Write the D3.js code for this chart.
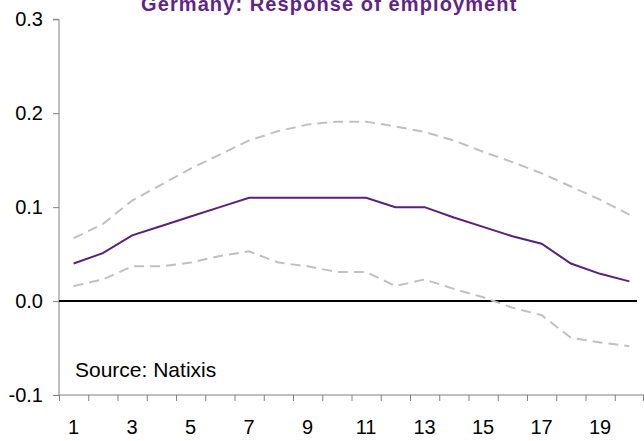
<!DOCTYPE html>
<html>
<head>
<meta charset="utf-8">
<script src="https://cdn.jsdelivr.net/npm/d3@7"></script>
<style>
  html, body { margin: 0; padding: 0; background: #fff; }
  svg { display: block; font-family: "Liberation Sans", Arial, sans-serif; }
</style>
</head>
<body>
<svg id="chart" width="644" height="441"></svg>
<script>
// Impulse response horizons (quarters)
const horizons = d3.range(1, 21);
// Response of employment and its confidence band
const response = [0.040, 0.051, 0.070, 0.080, 0.090, 0.100, 0.110, 0.110, 0.110, 0.110,
                  0.110, 0.100, 0.100, 0.089, 0.079, 0.069, 0.061, 0.040, 0.029, 0.021];
const upperBand = [0.067, 0.082, 0.107, 0.124, 0.141, 0.156, 0.171, 0.181, 0.188, 0.191,
                   0.191, 0.186, 0.180, 0.171, 0.159, 0.148, 0.136, 0.122, 0.108, 0.092];
const lowerBand = [0.016, 0.023, 0.037, 0.037, 0.041, 0.048, 0.053, 0.041, 0.037, 0.031,
                   0.031, 0.016, 0.023, 0.013, 0.004, -0.007, -0.015, -0.039, -0.044, -0.048];
const yTicks = [-0.1, 0.0, 0.1, 0.2, 0.3];
const xTickLabels = horizons.filter(h => h % 2 === 1);
const title = "Germany: Response of employment";
const sourceNote = "Source: Natixis";

const svg = d3.select("#chart");
const plotLeft = 59, plotRight = 644, plotTop = 19.3, plotBottom = 395;

const x = d3.scaleBand().domain(horizons).range([plotLeft, plotRight]).paddingInner(0).paddingOuter(0);
const y = d3.scaleLinear().domain([-0.1, 0.3]).range([plotBottom, plotTop]);
const cx = h => x(h) + x.bandwidth() / 2;

// Y axis
const yAxis = svg.append("g")
  .attr("transform", `translate(${plotLeft},0)`)
  .call(d3.axisLeft(y).tickValues(yTicks).tickSize(6).tickPadding(10).tickFormat(d3.format(".1f")));
yAxis.select(".domain").attr("stroke", "#808080").attr("d", `M-6,${y(0.3)}H0V${y(-0.1)}`);
yAxis.selectAll(".tick line").attr("stroke", "#808080");
yAxis.selectAll(".tick text").attr("font-size", 20).attr("fill", "#000")
  .text(d => d3.format(".1f")(d).replace("−", "-"));

// X axis: tick marks at band boundaries, labels on odd horizons
const xAxisG = svg.append("g").attr("transform", `translate(0,${plotBottom})`);
xAxisG.append("line").attr("x1", plotLeft).attr("x2", plotRight).attr("stroke", "#808080");
xAxisG.selectAll("line.tk").data(horizons.concat([21])).join("line")
  .attr("class", "tk")
  .attr("x1", h => h === 21 ? plotRight - 0.5 : x(h) + 0.5)
  .attr("x2", h => h === 21 ? plotRight - 0.5 : x(h) + 0.5)
  .attr("y1", 0).attr("y2", 6).attr("stroke", "#808080");
xAxisG.selectAll("text").data(xTickLabels).join("text")
  .attr("x", cx).attr("y", 39).attr("text-anchor", "middle")
  .attr("font-size", 20).attr("fill", "#000").text(d => d);

// Zero line
svg.append("line").attr("x1", plotLeft).attr("x2", 637)
  .attr("y1", y(0)).attr("y2", y(0)).attr("stroke", "#000").attr("stroke-width", 2);

const line = d3.line().x((d, i) => cx(horizons[i])).y(d => y(d));

// Confidence bands
[upperBand, lowerBand].forEach(band => {
  svg.append("path").datum(band).attr("d", line)
    .attr("fill", "none").attr("stroke", "#c0c0c0").attr("stroke-width", 2)
    .attr("stroke-dasharray", "10,6");
});

// Point response
svg.append("path").datum(response).attr("d", line)
  .attr("fill", "none").attr("stroke", "#5b1f7c").attr("stroke-width", 2);

// Title
svg.append("text").attr("x", 141).attr("y", 11)
  .attr("font-size", 20).attr("font-weight", "bold").attr("letter-spacing", 1.1)
  .attr("fill", "#5f2586").text(title);

// Source note
svg.append("text").attr("x", 75).attr("y", 377)
  .attr("font-size", 21).attr("fill", "#000").text(sourceNote);
</script>
</body>
</html>
